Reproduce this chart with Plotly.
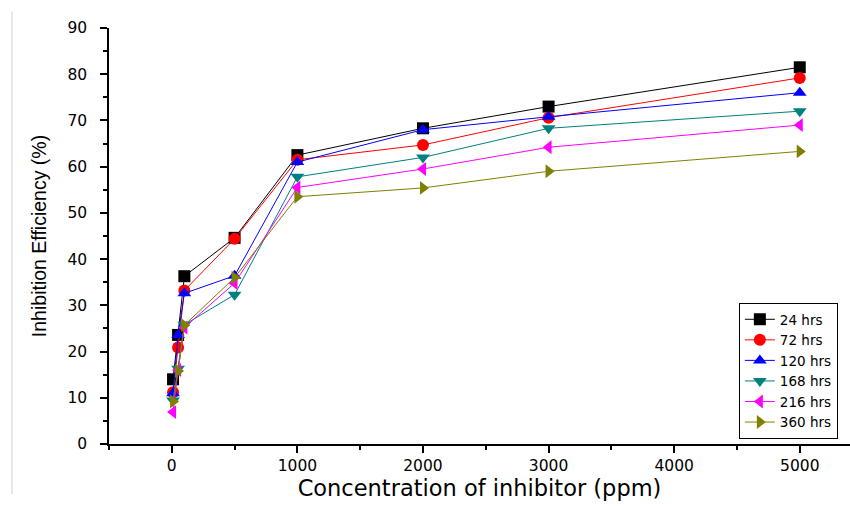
import plotly.graph_objects as go

conc = [10, 50, 100, 500, 1000, 2000, 3000, 5000]
ie_24 = [14.0, 23.6, 36.3, 44.6, 62.5, 68.3, 73.0, 81.5]
ie_72 = [11.2, 20.9, 33.2, 44.4, 61.5, 64.7, 70.6, 79.2]
ie_120 = [11.0, 23.6, 32.6, 36.4, 61.0, 68.0, 70.8, 76.0]
ie_168 = [9.4, 16.3, 25.8, 32.3, 57.8, 62.0, 68.3, 72.0]
ie_216 = [6.9, 16.0, 25.2, 34.8, 55.5, 59.5, 64.2, 69.0]
ie_360 = [9.2, 15.8, 25.7, 36.0, 53.5, 55.4, 59.0, 63.3]

series = [
    ("24 hrs", ie_24, "#000000", "square"),
    ("72 hrs", ie_72, "#ff0000", "circle"),
    ("120 hrs", ie_120, "#0000ff", "triangle-up"),
    ("168 hrs", ie_168, "#008080", "triangle-down"),
    ("216 hrs", ie_216, "#ff00ff", "triangle-left"),
    ("360 hrs", ie_360, "#808000", "triangle-right"),
]

fig = go.Figure()
for name, vals, col, sym in series:
    fig.add_trace(go.Scatter(
        x=conc, y=vals, name=name, mode="lines+markers",
        line=dict(color=col, width=1),
        marker=dict(symbol=sym, size=12, color=col, line=dict(width=0)),
    ))

tick_font = dict(family="DejaVu Sans, sans-serif", size=15.5, color="#000")
fig.update_layout(
    width=850, height=506,
    margin=dict(l=109, r=0, t=28, b=62),
    paper_bgcolor="white", plot_bgcolor="white",
    font=dict(family="DejaVu Sans, sans-serif", color="#000"),
    showlegend=True,
    legend=dict(
        x=0.85, y=0.012, xanchor="left", yanchor="bottom",
        bordercolor="#000", borderwidth=1, bgcolor="white",
        font=dict(size=13.5, family="DejaVu Sans, sans-serif"),
        tracegroupgap=0, itemsizing="trace",
    ),
    xaxis=dict(
        range=[-500, 5400], tickmode="array",
        tickvals=[0, 1000, 2000, 3000, 4000, 5000],
        ticks="outside", ticklen=7, tickwidth=1.5, tickcolor="#000",
        showline=True, linecolor="#000", linewidth=1.5,
        showgrid=False, zeroline=False,
        tickfont=tick_font,
        minor=dict(tickvals=[-500, 500, 1500, 2500, 3500, 4500], ticks="outside",
                   ticklen=4, tickwidth=1.5, tickcolor="#000"),
        title=dict(text="Concentration of inhibitor (ppm)",
                   font=dict(size=22.5, family="DejaVu Sans, sans-serif"),
                   standoff=5),
    ),
    yaxis=dict(
        range=[0, 90], tickmode="array",
        tickvals=[0, 10, 20, 30, 40, 50, 60, 70, 80, 90],
        ticks="outside", ticklen=7, tickwidth=1.5, tickcolor="#000",
        showline=True, linecolor="#000", linewidth=1.5,
        showgrid=False, zeroline=False,
        tickfont=tick_font, ticklabelstandoff=10,
        minor=dict(tickvals=[5, 15, 25, 35, 45, 55, 65, 75, 85], ticks="outside",
                   ticklen=4, tickwidth=1.5, tickcolor="#000"),
        title=dict(text="Inhibition Efficiency (%)",
                   font=dict(size=19.5, family="Liberation Sans, Arial, sans-serif"),
                   standoff=16),
    ),
    shapes=[dict(type="line", xref="paper", yref="paper",
                 x0=-0.131, x1=-0.131, y0=-0.12, y1=1.04,
                 line=dict(color="#d0d0d0", width=1))],
)

fig.write_html("out.html")
